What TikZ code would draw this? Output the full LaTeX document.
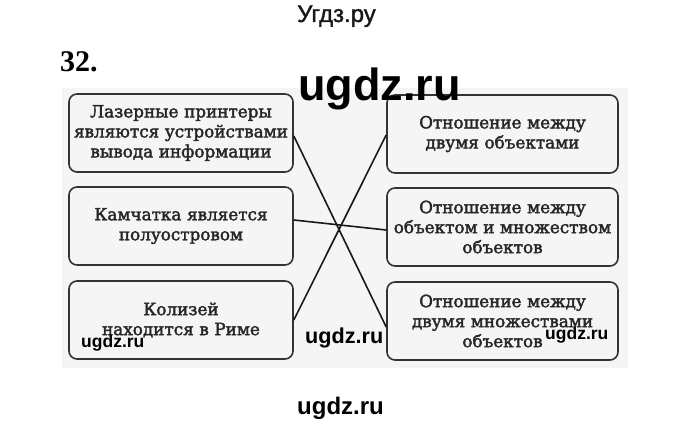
\documentclass[tikz,border=0pt]{standalone}
\usepackage{fontspec}
\setmainfont{DejaVu Serif}
\newfontfamily\boxfont[FakeBold=2.2]{DejaVu Serif}
\newfontfamily\wmfont{Liberation Sans}
\newfontfamily\titlefont[FakeBold=1.5]{Liberation Sans}
\newfontfamily\numfont{Liberation Serif}
\begin{document}
\begin{tikzpicture}[x=1pt,y=-1pt,
  box/.style={draw=black!80, line width=1.6pt, rounded corners=8pt,
    minimum height=78pt, align=center, inner sep=0pt, text=black!85,
    font=\boxfont\fontsize{16.8}{20}\selectfont},
  lbox/.style={box, minimum width=224pt, text width=222pt},
  rbox/.style={box, minimum width=231pt, text width=229pt},
  link/.style={draw=black!90, line width=1.6pt},
  wm/.style={font=\wmfont\bfseries, text=black, inner sep=0pt, anchor=base west}]
\useasboundingbox (0,0) rectangle (680,428);
\fill[white] (0,0) rectangle (680,428);
\fill[gray!8] (62,88) rectangle (628,368);
\node[font=\titlefont\fontsize{24}{24}\selectfont, text=black!90, inner sep=0pt, anchor=base west] (title) at (297,22) {Угдз.ру};
\node[font=\numfont\bfseries\fontsize{30}{30}\selectfont, inner sep=0pt, anchor=base west] (num) at (60,72) {32.};
\node[lbox] (L1) at (181,133) {Лазерные принтеры\\являются устройствами\\вывода информации};
\node[lbox] (L2) at (181,226) {Камчатка является\\полуостровом};
\node[lbox] (L3) at (181,320) {Колизей\\находится в Риме};
\node[rbox] (R1) at (502.5,134) {Отношение между\\двумя объектами};
\node[rbox] (R2) at (502.5,227) {Отношение между\\объектом и множеством\\объектов};
\node[rbox] (R3) at (502.5,321) {Отношение между\\двумя множествами\\объектов};
\draw[link] ([yshift=-3pt]L1.east) -- ([yshift=-6pt]R3.west);
\draw[link] (L3.east) -- ([yshift=-1pt]R1.west);
\draw[link] ([yshift=6pt]L2.east) -- ([yshift=-3pt]R2.west);
\node[wm, font=\wmfont\bfseries\fontsize{45}{45}\selectfont] (wm1) at (298,100) {ugdz.ru};
\node[wm, font=\wmfont\bfseries\fontsize{17.5}{17.5}\selectfont] (wm2) at (81,347) {ugdz.ru};
\node[wm, font=\wmfont\bfseries\fontsize{21.6}{21.6}\selectfont] (wm3) at (305,343) {ugdz.ru};
\node[wm, font=\wmfont\bfseries\fontsize{17.5}{17.5}\selectfont] (wm4) at (545,339) {ugdz.ru};
\node[wm, font=\wmfont\bfseries\fontsize{24}{24}\selectfont] (wm5) at (297,414) {ugdz.ru};
\end{tikzpicture}
\end{document}
